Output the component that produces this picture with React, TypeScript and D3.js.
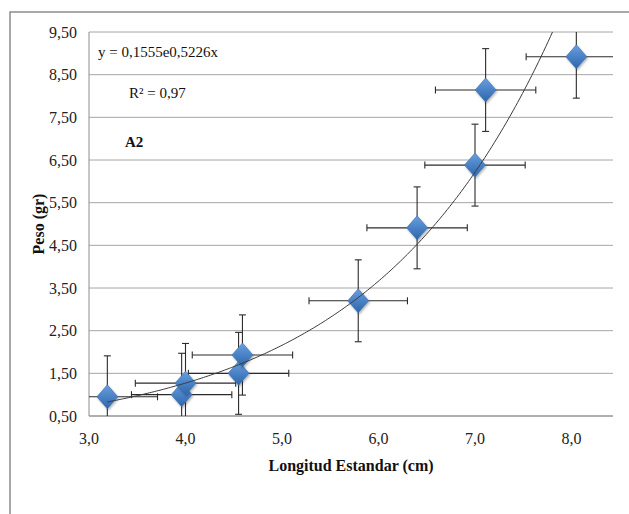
import React from "react";
import * as d3 from "d3";

const lengths = [3.19, 3.96, 4.0, 4.55, 4.59, 5.79, 6.4, 7.0, 7.11, 8.05];
const weights = [0.95, 1.0, 1.27, 1.5, 1.93, 3.2, 4.91, 6.38, 8.14, 8.92];
const weightErr = [0.96, 0.97, 0.93, 0.96, 0.94, 0.96, 0.96, 0.96, 0.97, 0.97];
const lengthErr = [0.52, 0.52, 0.52, 0.52, 0.52, 0.51, 0.52, 0.52, 0.52, 0.52];
const yTicks = [0.5, 1.5, 2.5, 3.5, 4.5, 5.5, 6.5, 7.5, 8.5, 9.5];
const xTicks = [3, 4, 5, 6, 7, 8];
const equationText = "y = 0,1555e0,5226x";
const r2Text = "R² = 0,97";
const panelLabel = "A2";
const xTitle = "Longitud Estandar (cm)";
const yTitle = "Peso (gr)";

const W = 629;
const H = 514;
const plot = { left: 89, right: 613, top: 32, bottom: 416 };
const SERIF = '"Liberation Serif", "DejaVu Serif", serif';

export default function App() {
  const x = d3.scaleLinear().domain([3, 8.43]).range([plot.left, plot.right]);
  const y = d3.scaleLinear().domain([0.5, 9.5]).range([plot.bottom, plot.top]);

  // exponential least-squares fit (on ln y), as the spreadsheet trendline
  const n = lengths.length;
  const lx = lengths;
  const ly = weights.map((v) => Math.log(v));
  const mx = d3.mean(lx) as number;
  const my = d3.mean(ly) as number;
  let sxy = 0, sxx = 0;
  for (let i = 0; i < n; i++) {
    sxy += (lx[i] - mx) * (ly[i] - my);
    sxx += (lx[i] - mx) ** 2;
  }
  const b = sxy / sxx;
  const a = Math.exp(my - b * mx);
  const xMin = d3.min(lengths) as number;
  const xMax = d3.max(lengths) as number;
  const trendPts = d3.range(0, 201).map((i) => {
    const xv = xMin + ((xMax - xMin) * i) / 200;
    return [xv, a * Math.exp(b * xv)] as [number, number];
  });
  const line = d3
    .line<[number, number]>()
    .x((d) => x(d[0]))
    .y((d) => y(d[1]));

  const fmtY = (v: number) => v.toFixed(2).replace(".", ",");
  const fmtX = (v: number) => v.toFixed(1).replace(".", ",");
  const cap = 3.5;
  const hw = 10.5;
  const hh = 12;
  const errColor = "#2b2b2b";
  const ts = { fontFamily: SERIF };

  return (
    <svg
      width={W}
      height={H}
      style={{ position: "absolute", left: 0, top: 0, background: "#fff", fontFamily: SERIF }}
    >
      <defs>
        <linearGradient id="dia" x1="0" y1="0" x2="0" y2="1">
          <stop offset="0" stopColor="#6a9fdd" />
          <stop offset="0.5" stopColor="#4a82c6" />
          <stop offset="1" stopColor="#2f64a8" />
        </linearGradient>
        <clipPath id="pc">
          <rect x={plot.left} y={plot.top} width={plot.right - plot.left} height={plot.bottom - plot.top} />
        </clipPath>
        <filter id="sh" x="-50%" y="-50%" width="200%" height="200%">
          <feDropShadow dx="1" dy="1.5" stdDeviation="1.2" floodColor="#000" floodOpacity="0.3" />
        </filter>
      </defs>
      <rect x={10} y={12} width={W} height={H} fill="none" stroke="#8c8c8c" strokeWidth={1.5} />

      {yTicks.map((t) => (
        <g key={t}>
          <line x1={plot.left} x2={plot.right} y1={y(t)} y2={y(t)} stroke="#a6a6a6" strokeWidth={1} />
          <text x={77} y={y(t)} dy="0.35em" textAnchor="end" fontSize={16} fill="#222" style={ts}>
            {fmtY(t)}
          </text>
        </g>
      ))}
      <line x1={plot.left} x2={plot.left} y1={plot.top} y2={plot.bottom} stroke="#8c8c8c" />
      <line x1={plot.left} x2={plot.right} y1={plot.bottom} y2={plot.bottom} stroke="#8c8c8c" />
      {xTicks.map((t) => (
        <text key={t} x={x(t)} y={438} dy="0.35em" textAnchor="middle" fontSize={16} fill="#222" style={ts}>
          {fmtX(t)}
        </text>
      ))}

      <g clipPath="url(#pc)">
        {lengths.map((lv, i) => {
          const cx = x(lv);
          const cy = y(weights[i]);
          const y0 = y(weights[i] - weightErr[i]);
          const y1 = y(weights[i] + weightErr[i]);
          const x0 = x(lv - lengthErr[i]);
          const x1 = x(lv + lengthErr[i]);
          return (
            <g key={i} stroke={errColor} strokeWidth={1.1}>
              <line x1={cx} x2={cx} y1={y0} y2={y1} />
              <line x1={cx - cap} x2={cx + cap} y1={y0} y2={y0} />
              <line x1={cx - cap} x2={cx + cap} y1={y1} y2={y1} />
              <line x1={x0} x2={x1} y1={cy} y2={cy} />
              <line x1={x0} x2={x0} y1={cy - cap} y2={cy + cap} />
              <line x1={x1} x2={x1} y1={cy - cap} y2={cy + cap} />
            </g>
          );
        })}
        {lengths.map((lv, i) => {
          const cx = x(lv);
          const cy = y(weights[i]);
          return (
            <path
              key={i}
              d={`M${cx},${cy - hh}L${cx + hw},${cy}L${cx},${cy + hh}L${cx - hw},${cy}Z`}
              fill="url(#dia)"
              stroke="#3a6eae"
              strokeWidth={0.6}
              filter="url(#sh)"
            />
          );
        })}
        <path d={line(trendPts) || ""} fill="none" stroke="#3c3c3c" strokeWidth={1} />
      </g>

      <text x={98} y={52} dy="0.35em" fontSize={15} fill="#111" style={ts}>
        {equationText}
      </text>
      <text x={129} y={93} dy="0.35em" fontSize={15} fill="#111" style={ts}>
        {r2Text}
      </text>
      <text x={125} y={142} dy="0.35em" fontSize={15} fontWeight="bold" fill="#111" style={ts}>
        {panelLabel}
      </text>
      <text x={351} y={465} dy="0.35em" textAnchor="middle" fontSize={16} fontWeight="bold" fill="#111" style={ts}>
        {xTitle}
      </text>
      <text
        transform={`translate(38,${(plot.top + plot.bottom) / 2}) rotate(-90)`}
        dy="0.35em"
        textAnchor="middle"
        fontSize={16}
        fontWeight="bold"
        fill="#111"
        style={ts}
      >
        {yTitle}
      </text>
    </svg>
  );
}
